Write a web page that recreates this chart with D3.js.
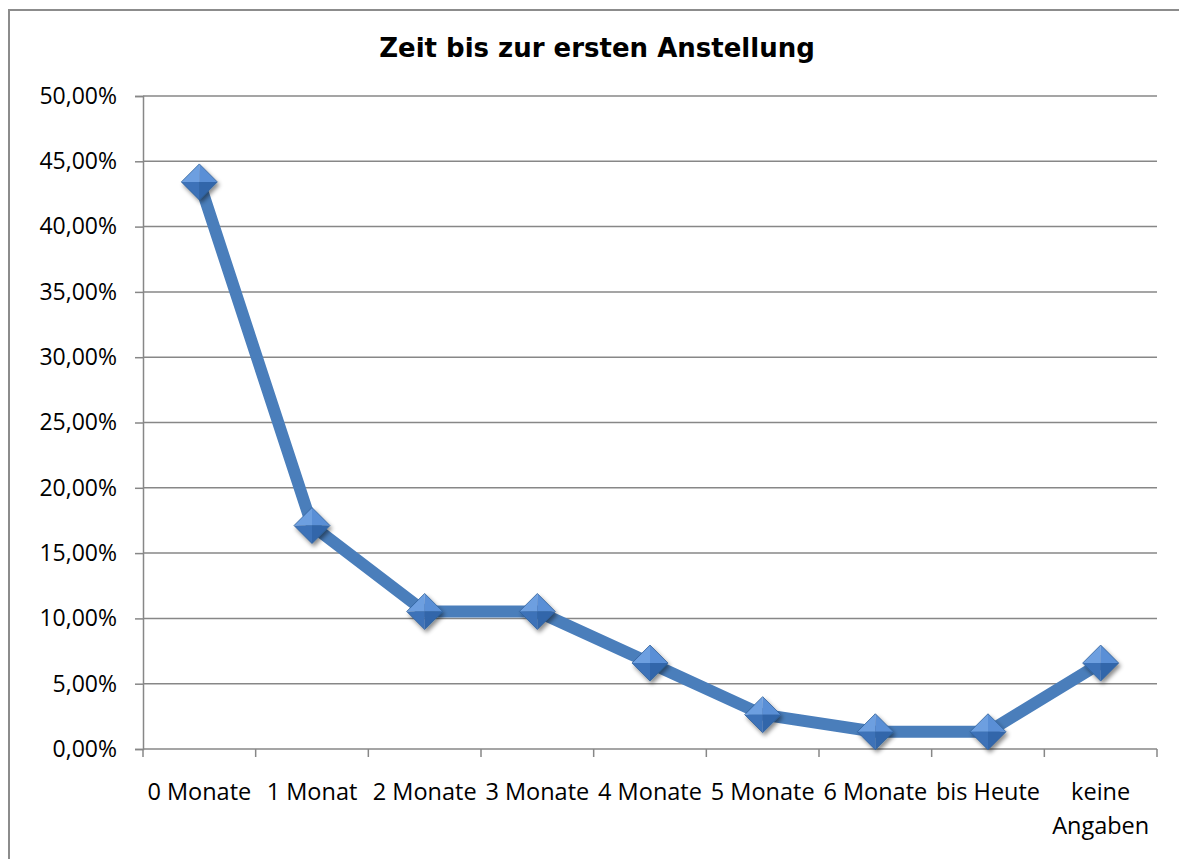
<!DOCTYPE html>
<html>
<head>
<meta charset="utf-8">
<script src="https://cdn.jsdelivr.net/npm/d3@7"></script>
<style>
  body { margin: 0; background: #fff; }
  svg { display: block; }
</style>
</head>
<body>
<div id="chart"></div>
<script>
// data
var categories = ['0 Monate', '1 Monat', '2 Monate', '3 Monate', '4 Monate', '5 Monate', '6 Monate', 'bis Heute', 'keine Angaben'];
var values = [0.4342, 0.1711, 0.1053, 0.1053, 0.0658, 0.0263, 0.0132, 0.0132, 0.0658];
var yTicks = [0, 0.05, 0.10, 0.15, 0.20, 0.25, 0.30, 0.35, 0.40, 0.45, 0.50];
var title = 'Zeit bis zur ersten Anstellung';

var W = 1179, H = 859;
var plot = {left: 143, right: 1157, top: 96, bottom: 749};

var svg = d3.select('#chart').append('svg')
    .attr('width', W).attr('height', H);

var defs = svg.append('defs');
var f = defs.append('filter').attr('id', 'shadow')
    .attr('x', '-50%').attr('y', '-50%').attr('width', '200%').attr('height', '200%');
f.append('feDropShadow').attr('dx', 2).attr('dy', 3).attr('stdDeviation', 2.2)
    .attr('flood-color', '#000').attr('flood-opacity', 0.45);

// outer chart border (right/bottom fall outside the image)
svg.append('rect')
    .attr('x', 9).attr('y', 10).attr('width', W + 20).attr('height', H + 20)
    .attr('fill', 'none').attr('stroke', '#8c8c8c').attr('stroke-width', 2);

var x = d3.scaleBand().domain(categories).range([plot.left, plot.right]).padding(0);
var y = d3.scaleLinear().domain([0, 0.5]).range([plot.bottom, plot.top]);

// horizontal gridlines
svg.append('g').selectAll('line')
    .data(yTicks.slice(1))
    .enter().append('line')
    .attr('x1', plot.left).attr('x2', plot.right)
    .attr('y1', function (d) { return y(d); })
    .attr('y2', function (d) { return y(d); })
    .attr('stroke', '#878787').attr('stroke-width', 1.5);

var fmt = function (d) { return (d * 100).toFixed(2).replace('.', ',') + '%'; };

// y axis
var yAxis = svg.append('g')
    .attr('transform', 'translate(' + plot.left + ',0)')
    .call(d3.axisLeft(y).tickValues(yTicks).tickFormat(fmt).tickSize(8).tickPadding(18));
yAxis.select('.domain').attr('stroke', '#878787').attr('stroke-width', 1.5);
yAxis.selectAll('.tick line').attr('stroke', '#878787').attr('stroke-width', 1.5);
yAxis.selectAll('text')
    .attr('font-family', 'Open Sans, sans-serif').attr('font-size', 23).attr('fill', '#000');

// x axis: tick marks on category boundaries
var bounds = categories.map(function (c) { return x(c); }).concat([plot.right]);
svg.append('line')
    .attr('x1', plot.left).attr('x2', plot.right)
    .attr('y1', plot.bottom).attr('y2', plot.bottom)
    .attr('stroke', '#878787').attr('stroke-width', 1.5);
svg.append('g').selectAll('line')
    .data(bounds)
    .enter().append('line')
    .attr('x1', function (d) { return d; }).attr('x2', function (d) { return d; })
    .attr('y1', plot.bottom).attr('y2', plot.bottom + 8)
    .attr('stroke', '#878787').attr('stroke-width', 1.5);

var xl = svg.append('g').selectAll('text')
    .data(categories)
    .enter().append('text')
    .attr('x', function (d) { return x(d) + x.bandwidth() / 2; })
    .attr('y', 800)
    .attr('text-anchor', 'middle')
    .attr('font-family', 'Open Sans, sans-serif').attr('font-size', 23.5).attr('fill', '#000');
xl.each(function (d) {
    var t = d3.select(this);
    var words = d === 'keine Angaben' ? ['keine', 'Angaben'] : [d];
    words.forEach(function (w, i) {
        t.append('tspan').attr('x', x(d) + x.bandwidth() / 2)
            .attr('dy', i === 0 ? 0 : 34).text(w);
    });
});

// title
svg.append('text')
    .attr('x', 597).attr('y', 57)
    .attr('text-anchor', 'middle')
    .attr('font-family', 'DejaVu Sans, Verdana, sans-serif')
    .attr('font-weight', 'bold').attr('font-size', 26)
    .text(title);

// series line
var line = d3.line()
    .x(function (d, i) { return x(categories[i]) + x.bandwidth() / 2; })
    .y(function (d) { return y(d); });
svg.append('path')
    .datum(values)
    .attr('d', line)
    .attr('fill', 'none')
    .attr('stroke', '#4a7ebb').attr('stroke-width', 12)
    .attr('stroke-linejoin', 'round');

// diamond markers with four shaded facets
var r = 18;
var facets = [
    {pts: [[0, 0], [-r, 0], [0, -r]], fill: '#6d9fe0'},
    {pts: [[0, 0], [0, -r], [r, 0]], fill: '#5a8fd6'},
    {pts: [[0, 0], [r, 0], [0, r]], fill: '#3366aa'},
    {pts: [[0, 0], [0, r], [-r, 0]], fill: '#3c72b8'}
];
var mk = svg.append('g').selectAll('g')
    .data(values)
    .enter().append('g')
    .attr('transform', function (d, i) {
        return 'translate(' + (x(categories[i]) + x.bandwidth() / 2) + ',' + y(d) + ')';
    })
    .attr('filter', 'url(#shadow)');
mk.selectAll('path')
    .data(facets)
    .enter().append('path')
    .attr('d', function (f) { return 'M' + f.pts.join('L') + 'Z'; })
    .attr('fill', function (f) { return f.fill; });
mk.append('path')
    .attr('d', 'M' + (-r) + ',0L0,' + (-r) + 'L' + r + ',0L0,' + r + 'Z')
    .attr('fill', 'none').attr('stroke', '#2f5f9a').attr('stroke-width', 0.8);
</script>
</body>
</html>
